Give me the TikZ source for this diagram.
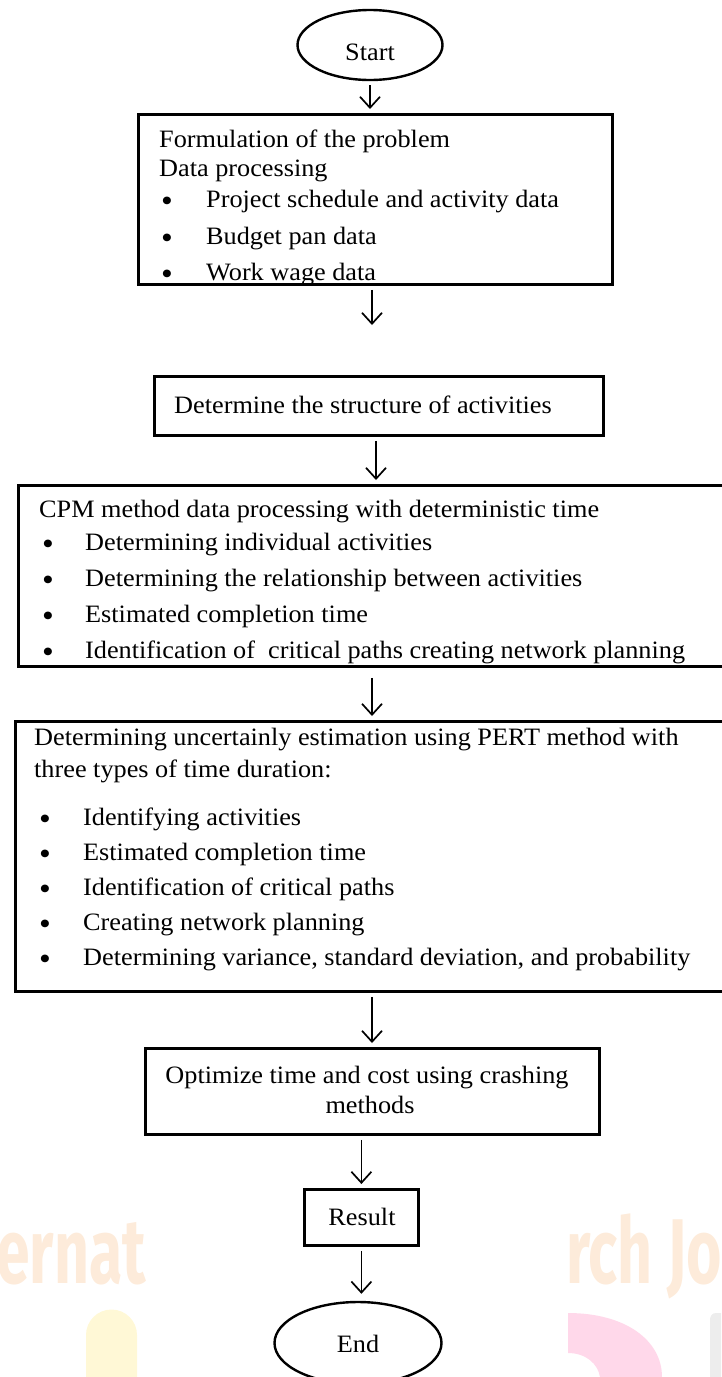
\documentclass[tikz,border=0pt]{standalone}
\usepackage{fontspec}
\setmainfont{Liberation Serif}[FakeStretch=1.05]
\newfontfamily\wmfont{Fira Sans}[FakeStretch=0.66]
\usetikzlibrary{arrows.meta,shapes.geometric,positioning}
\definecolor{wmorange}{HTML}{FDEBDA}
\definecolor{wmyellow}{HTML}{FFF8D6}
\definecolor{wmpink}{HTML}{FFD8EA}
\definecolor{wmgray}{HTML}{EDEDED}
\newcommand{\dotmark}{\raisebox{-4pt}{\fontsize{32}{32}\selectfont\textbullet}}
\tikzset{
  flowbox/.style={draw=black,line width=2.8pt,rectangle,anchor=north west,inner sep=0pt},
  terminal/.style={draw=black,line width=2.4pt,ellipse,inner sep=0pt,text depth=0pt,font=\fontsize{25}{30}\selectfont},
  flowtext/.style={anchor=base west,inner sep=0pt,font=\fontsize{25}{30}\selectfont},
  centretext/.style={anchor=base,inner sep=0pt,font=\fontsize{25}{30}\selectfont},
  flowarrow/.style={line width=1.7pt,shorten <=4pt,shorten >=4pt,
    -{Straight Barb[length=11pt,width=20pt,line width=1.7pt]}},
  watermark/.style={anchor=base west,inner sep=0pt,text=wmorange,font=\wmfont\bfseries\fontsize{92}{92}\selectfont}
}

\begin{document}
\begin{tikzpicture}[x=1pt,y=-1pt]
\useasboundingbox (0,0) rectangle (721,1377);
% faint journal watermark behind the chart
\node[watermark] (wmleft) at (-4,1283) {ernat};
\node[watermark] (wmright) at (566,1283) {rch Jo};
\fill[wmyellow] (86,1377) -- (86,1335) arc[start angle=180,end angle=360,radius=25.5] -- (137,1377) -- cycle;
\fill[wmpink] (568,1313) .. controls (625,1313) and (662,1340) .. (662,1377) -- (600,1377)
  .. controls (598,1364) and (586,1353) .. (568,1353) -- cycle;
\fill[wmgray] (721,1313) -- (716,1313) .. controls (712,1313) and (710,1316) .. (710,1320) -- (710,1377) -- (721,1377) -- cycle;

% terminals
\node[terminal,minimum width=145pt,minimum height=70pt,text height=30pt] (start) at (370,45) {Start};
\node[terminal,minimum width=167pt,minimum height=82pt,text height=18pt] (finish) at (358,1343) {End};

% step boxes
\node[flowbox,minimum width=474pt,minimum height=170pt] (form) at (137,113) {};
\node[flowbox,minimum width=449pt,minimum height=59pt] (struct) at (153,375) {};
\node[flowbox,minimum width=720pt,minimum height=181pt] (cpm) at (17,484) {};
\node[flowbox,minimum width=720pt,minimum height=270pt] (pert) at (14,720) {};
\node[flowbox,minimum width=454pt,minimum height=86pt] (crash) at (144,1047) {};
\node[flowbox,minimum width=114pt,minimum height=56pt] (result) at (303,1188) {};

% box texts
\node[flowtext] (form1) at (159,147) {Formulation of the problem};
\node[flowtext] (form2) at (159,176) {Data processing};
\foreach \ypos/\entry [count=\i] in {207/Project schedule and activity data,244/Budget pan data,280/Work wage data} {
  \node[flowtext] (formdot\i) at (161,\ypos) {\dotmark};
  \node[flowtext] (formitem\i) at (206,\ypos) {\entry};
}
\node[flowtext] (struct1) at (174,413) {Determine the structure of activities};
\node[flowtext] (cpm1) at (39,517) {CPM method data processing with deterministic time};
\foreach \ypos/\entry [count=\i] in {550/Determining individual activities,586/Determining the relationship between activities,622/Estimated completion time,658/Identification of\ \ critical paths creating network planning} {
  \node[flowtext] (cpmdot\i) at (42,\ypos) {\dotmark};
  \node[flowtext] (cpmitem\i) at (85,\ypos) {\entry};
}
\node[flowtext] (pert1) at (34,745) {Determining uncertainly estimation using PERT method with};
\node[flowtext] (pert2) at (34,777) {three types of time duration:};
\foreach \ypos/\entry [count=\i] in {825/Identifying activities,860/Estimated completion time,895/Identification of critical paths,930/Creating network planning,{965/Determining variance, standard deviation, and probability}} {
  \node[flowtext] (pertdot\i) at (39,\ypos) {\dotmark};
  \node[flowtext] (pertitem\i) at (83,\ypos) {\entry};
}
\node[centretext] (crash1) at (367,1083) {Optimize time and cost using crashing};
\node[centretext] (crash2) at (370,1113) {methods};
\node[centretext] (result1) at (362,1225) {Result};

% connectors
\coordinate (spine) at (372,0);
\draw[flowarrow] (start.south) -- (start.south |- form.north);
\draw[flowarrow,shorten >=50pt] (form.south -| spine) -- (struct.north -| spine);
\draw[flowarrow] ([xshift=4pt]struct.south -| spine) -- ([xshift=4pt]cpm.north -| spine);
\draw[flowarrow,shorten <=10pt] (cpm.south -| spine) -- (pert.north -| spine);
\draw[flowarrow] (pert.south -| spine) -- (crash.north -| spine);
\draw[flowarrow] (crash.south -| result) -- (result.north);
\draw[flowarrow,shorten >=7pt] (result.south) -- (result.south |- finish.north);
\end{tikzpicture}
\end{document}
